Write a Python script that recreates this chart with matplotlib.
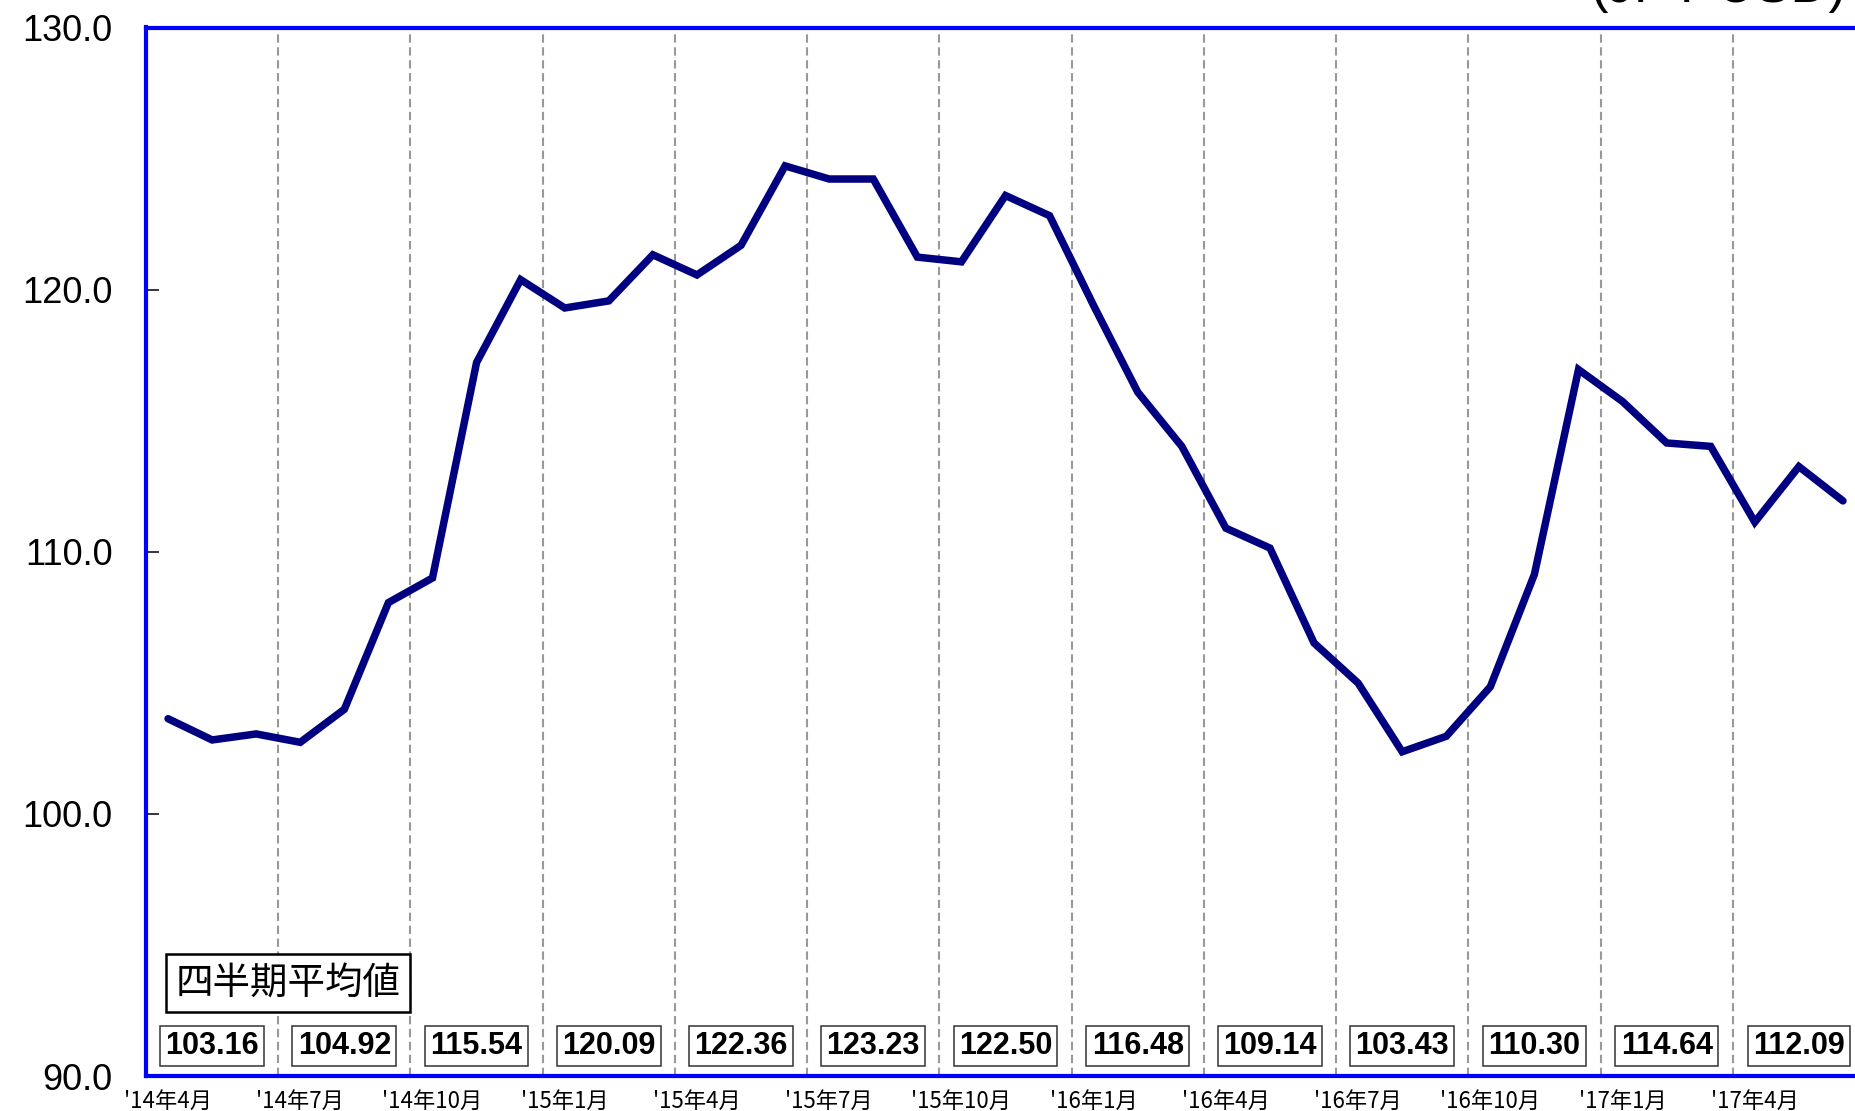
import matplotlib
matplotlib.use("Agg")
import matplotlib.pyplot as plt
from matplotlib import font_manager
import numpy as np

# ---- data ----
months = list(range(39))  # Apr 2014 ... Jun 2017 (monthly)
rate = [103.63, 102.82, 103.05, 102.73, 103.99, 108.06, 109.00, 117.22, 120.38,
        119.30, 119.57, 121.33, 120.56, 121.69, 124.72, 124.22, 124.22, 121.24,
        121.06, 123.59, 122.82, 119.39, 116.09, 114.02, 110.90, 110.14, 106.52,
        104.99, 102.37, 102.96, 104.85, 109.14, 116.95, 115.73, 114.15, 114.02,
        111.13, 113.25, 111.94]
quarter_avg = [103.16, 104.92, 115.54, 120.09, 122.36, 123.23, 122.50,
               116.48, 109.14, 103.43, 110.30, 114.64, 112.09]
xtick_labels = ["'14年4月", "'14年7月", "'14年10月", "'15年1月", "'15年4月",
                "'15年7月", "'15年10月", "'16年1月", "'16年4月", "'16年7月",
                "'16年10月", "'17年1月", "'17年4月"]
yticks = [90, 100, 110, 120, 130]
unit_label = "(JPY-USD)"
box_title = "四半期平均値"

NUM_FONT = ["Liberation Sans", "DejaVu Sans"]
CJK_FONT = ["Noto Sans CJK JP", "DejaVu Sans"]

installed = {f.name for f in font_manager.fontManager.ttflist}
if "Liberation Sans Narrow" in installed:
    YLAB_FONT, YLAB_SIZE, YLAB_W = ["Liberation Sans Narrow"], 33, "bold"
else:
    YLAB_FONT, YLAB_SIZE, YLAB_W = NUM_FONT, 26, "normal"

fig = plt.figure(figsize=(18.56, 11.11), dpi=100)
ax = fig.add_axes([146 / 1856, 1 - 1076 / 1111, (1865 - 146) / 1856, (1076 - 27.5) / 1111])

n_q = len(quarter_avg)
ax.set_xlim(-0.5, 3 * n_q - 0.5)
ax.set_ylim(90, 130)

# vertical dashed gridlines at quarter boundaries
for k in range(1, n_q + 1):
    ax.axvline(3 * k - 0.5, color="#999999", lw=1.5, dashes=(4, 2.2), zorder=1)

ax.plot(months, rate, color="#000080", lw=5.4, solid_joinstyle="miter",
        solid_capstyle="round", zorder=3)

# spines
for side in ["left", "top", "bottom", "right"]:
    ax.spines[side].set_color("#0000ff")
    ax.spines[side].set_linewidth(3)

# y ticks
ax.set_yticks(yticks)
ax.set_yticklabels([f"{v:.1f}" for v in yticks], fontsize=YLAB_SIZE,
                   fontweight=YLAB_W, family=YLAB_FONT)
ax.tick_params(axis="y", direction="in", length=9, width=1.1, color="black", pad=24)

# x ticks
major_x = list(range(0, 3 * n_q, 3))
ax.set_xticks(major_x)
ax.set_xticklabels(xtick_labels, fontsize=16, family=CJK_FONT)
ax.tick_params(axis="x", which="major", length=0, pad=10)
ax.set_xticks([3 * q + 1 for q in range(n_q)], minor=True)
ax.tick_params(axis="x", which="minor", direction="inout", length=3, width=12, color="white")

# quarterly average boxes
for q, v in enumerate(quarter_avg):
    ax.text(3 * q + 1, 91.15, f"{v:.2f}", ha="center", va="center", fontsize=22,
            fontweight="bold", family=NUM_FONT, zorder=4,
            bbox=dict(boxstyle="square,pad=0.17", fc="white", ec="#333333", lw=1.1))

ax.text(2.72, 93.55, box_title, ha="center", va="center", fontsize=27,
        family=CJK_FONT, zorder=4,
        bbox=dict(boxstyle="square,pad=0.25", fc="white", ec="black", lw=1.8))

fig.text(1847 / 1856, 1 - 2 / 1111, unit_label, ha="right", va="baseline",
         fontsize=38, family=NUM_FONT)

fig.savefig("out.png", dpi=100)
